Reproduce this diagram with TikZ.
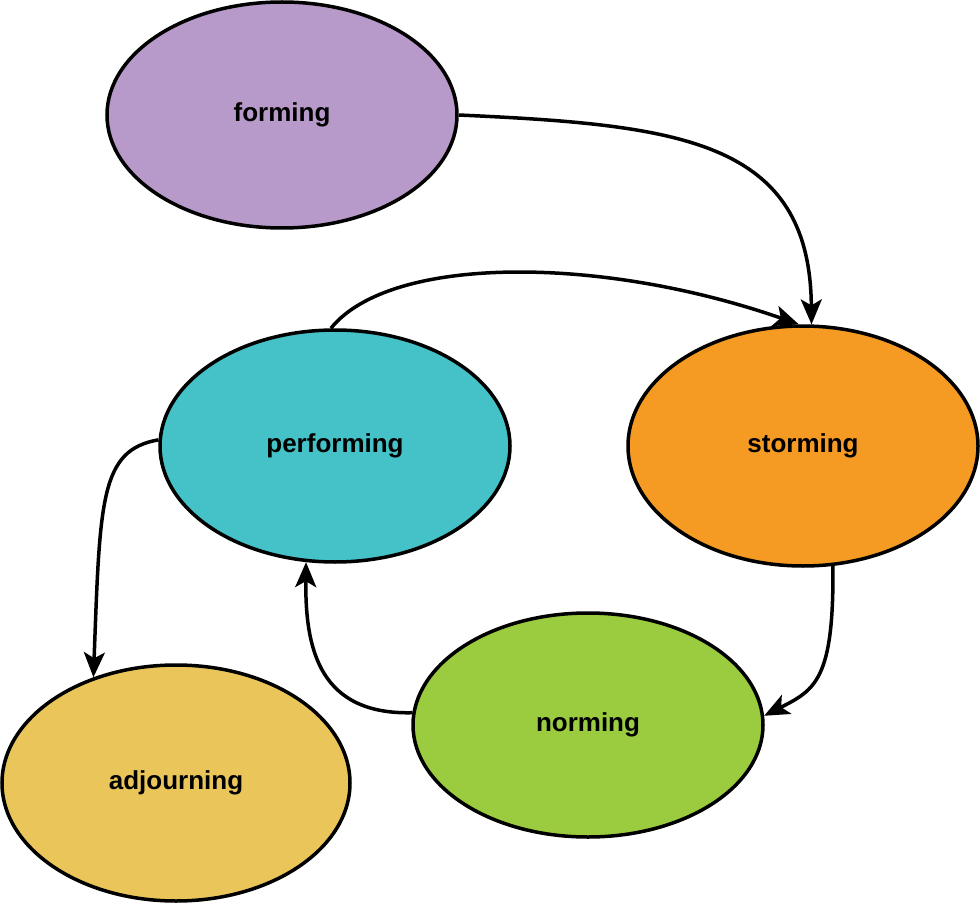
\documentclass[tikz,border=0pt]{standalone}
\usepackage{fontspec}
\setmainfont{Liberation Sans}
\usetikzlibrary{shapes.geometric,arrows.meta}

\definecolor{formcol}{HTML}{B79ACA}
\definecolor{perfcol}{HTML}{45C2C7}
\definecolor{stormcol}{HTML}{F59B23}
\definecolor{normcol}{HTML}{9BCB3F}
\definecolor{adjcol}{HTML}{EAC65A}

\begin{document}
\begin{tikzpicture}[x=1pt,y=-1pt,
  phase/.style={ellipse, draw, line width=3.5pt, inner sep=0pt,
    minimum width=350pt, minimum height=226pt,
    font=\fontsize{26}{30}\selectfont\bfseries},
  flow/.style={line width=3.5pt, -{Stealth[length=25pt,width=21pt,inset=6pt]}}]
\useasboundingbox (0,0) rectangle (980,904);
\node [phase, fill=formcol] (forming) at (282,115) {forming};
\node [phase, fill=perfcol, minimum height=232pt] (performing) at (335,446) {performing};
\node [phase, fill=stormcol, minimum height=240pt] (storming) at (803,446) {storming};
\node [phase, fill=normcol, minimum height=224pt] (norming) at (588,725) {norming};
\node [phase, fill=adjcol, minimum width=348pt, minimum height=236pt] (adjourning) at (176,783) {adjourning};
\draw [flow] (forming.east) .. controls (680,125) and (810,140) .. (storming.86);
\draw [flow] (performing.92) .. controls (390,255) and (600,255) .. (storming.92);
\draw [flow] (storming.-76) .. controls (834,680) and (815,690) .. (norming.3);
\draw [flow] (norming.176) .. controls (320,715) and (305,650) .. (performing.-104);
\draw [flow] (performing.178) .. controls (100,450) and (100,500) .. (adjourning.128);
\end{tikzpicture}
\end{document}
